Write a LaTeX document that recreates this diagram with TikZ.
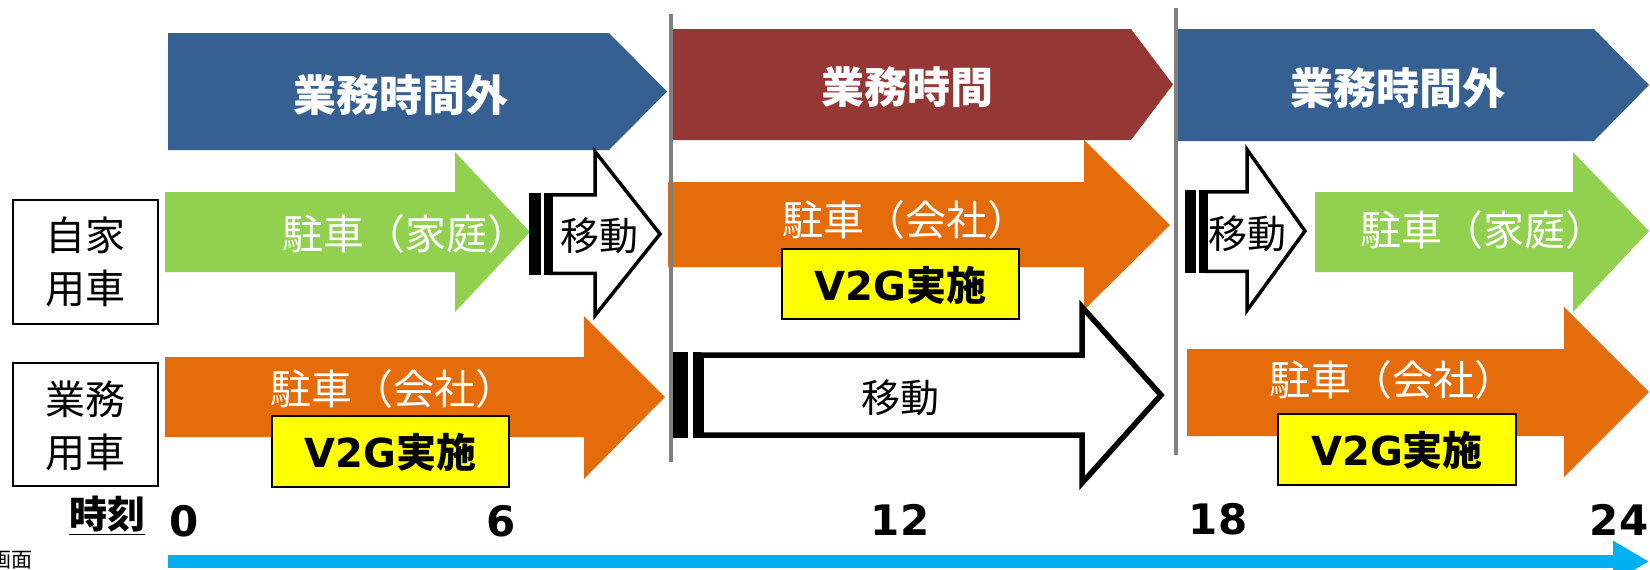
\documentclass[tikz,border=0pt]{standalone}
\usepackage{fontspec}
\setmainfont{DejaVu Sans}
\newfontfamily\jp{Noto Sans CJK JP}
\newfontfamily\dv{DejaVu Sans}
\usetikzlibrary{arrows.meta}
\definecolor{hblue}{HTML}{376092}
\definecolor{hred}{HTML}{953735}
\definecolor{pgreen}{HTML}{92D050}
\definecolor{porange}{HTML}{E46C0A}
\definecolor{axisblue}{HTML}{00B0F0}
\definecolor{vgray}{HTML}{808080}
\definecolor{vyellow}{HTML}{FFFF00}
\begin{document}
\begin{tikzpicture}[x=0.5pt,y=-0.5pt,
  every node/.style={inner sep=0pt, outer sep=0pt},
  headtxt/.style={text=white, font={\jp\bfseries\fontsize{21.5}{26}\selectfont}},
  parktxt/.style={text=white, font={\jp\fontsize{20.5}{25}\selectfont}},
  movetxt/.style={text=black, font={\jp\fontsize{19.5}{24}\selectfont}},
  v2gbox/.style={draw=black, line width=1pt, fill=vyellow},
  labelbox/.style={draw=black, line width=1pt, fill=white},
  labeltxt/.style={align=center, font={\jp\fontsize{20}{26.5}\selectfont}},
  timetxt/.style={font={\dv\bfseries\fontsize{21}{25}\selectfont}},
  movearrow/.style={draw=black, fill=white, line join=miter},
  divider/.style={draw=vgray, line width=2pt},
  axisline/.style={draw=axisblue, line width=6.5pt, -{Triangle[length=18pt,width=19.5pt]}}
]
\useasboundingbox (0,0) rectangle (1650,569);

% ---- headers ----
\fill[hblue] (168,33) -- (609,33) -- (667,91.5) -- (609,150) -- (168,150) -- cycle;
\fill[hred] (673,29) -- (1131,29) -- (1173,84.5) -- (1131,140) -- (673,140) -- cycle;
\fill[hblue] (1178,29) -- (1594,29) -- (1649,85) -- (1594,141) -- (1178,141) -- cycle;
\node[headtxt] (h1) at (401,95) {業務時間外};
\node[headtxt] (h2) at (907,87) {業務時間};
\node[headtxt] (h3) at (1398,88) {業務時間外};

% ---- row 1 (自家用車) ----
\fill[pgreen] (165,192) -- (455,192) -- (455,152) -- (530,232) -- (455,312) -- (455,272) -- (165,272) -- cycle;
\node[parktxt] (p1) at (405,234) {駐車（家庭）};

\fill[black] (529,193) rectangle (541,275);
\fill[black] (544,193) rectangle (551,275);
\draw[movearrow, line width=1.75pt] (551,194.75) -- (595,194.75) -- (595,151.5) -- (660,234) -- (595,315.5) -- (595,273.25) -- (551,273.25) -- cycle;
\node[movetxt] (m1) at (599,236) {移動};

\fill[porange] (668,182) -- (1084,182) -- (1084,140) -- (1170,225) -- (1084,310) -- (1084,267) -- (668,267) -- cycle;
\node[parktxt] (p2) at (905,220) {駐車（会社）};
\draw[v2gbox] (782,249) rectangle (1019,319);
\node (v1) at (900.5,285) {{\dv\bfseries\fontsize{20}{24}\selectfont V2G}{\jp\bfseries\fontsize{20}{24}\selectfont 実施}};

\fill[black] (1185,190) rectangle (1196,273);
\fill[black] (1199,190) rectangle (1206,273);
\draw[movearrow, line width=1.75pt] (1206,191.75) -- (1247,191.75) -- (1247,149.5) -- (1305,231) -- (1247,310.5) -- (1247,271.25) -- (1206,271.25) -- cycle;
\node[movetxt] (m2) at (1247,234) {移動};

\fill[pgreen] (1315,192) -- (1573,192) -- (1573,152) -- (1649,231) -- (1573,312) -- (1573,272) -- (1315,272) -- cycle;
\node[parktxt] (p3) at (1483,230) {駐車（家庭）};

% ---- row 2 (業務用車) ----
\fill[porange] (165,357) -- (584,357) -- (584,316) -- (665,397) -- (584,479) -- (584,437) -- (165,437) -- cycle;
\node[parktxt] (p4) at (393,389) {駐車（会社）};
\draw[v2gbox] (272,416) rectangle (509,487);
\node (v2) at (390.5,452) {{\dv\bfseries\fontsize{20}{24}\selectfont V2G}{\jp\bfseries\fontsize{20}{24}\selectfont 実施}};

\fill[black] (673,352) rectangle (688,438);
\fill[black] (693,352) rectangle (701,438);
\draw[movearrow, line width=2.75pt] (701,355) -- (1082,355) -- (1082,307) -- (1161,395) -- (1082,483) -- (1082,435) -- (701,435) -- cycle;
\node[movetxt] (m3) at (900,398) {移動};

\fill[porange] (1187,349) -- (1564,349) -- (1564,307) -- (1649,392) -- (1564,477) -- (1564,436) -- (1187,436) -- cycle;
\node[parktxt] (p5) at (1392,380) {駐車（会社）};
\draw[v2gbox] (1278,414) rectangle (1516,485);
\node (v3) at (1397,450) {{\dv\bfseries\fontsize{20}{24}\selectfont V2G}{\jp\bfseries\fontsize{20}{24}\selectfont 実施}};

% ---- dividers ----
\coordinate (d1t) at (671,14);
\coordinate (d1b) at (671,462);
\coordinate (d2t) at (1176,8);
\coordinate (d2b) at (1176,455);
\draw[divider] (d1t) -- (d1b);
\draw[divider] (d2t) -- (d2b);

% ---- row labels ----
\draw[labelbox] (13,200) rectangle (158,324);
\node[labeltxt] (l1) at (86,262) {自家\\用車};
\draw[labelbox] (13,363) rectangle (158,486);
\node[labeltxt] (l2) at (86,426) {業務\\用車};

% ---- time axis ----
\node[font={\jp\bfseries\fontsize{19}{23}\selectfont}] (tk) at (107,516) {\underline{時刻}};
\node[timetxt] (t0) at (184,521) {0};
\node[timetxt] (t6) at (501,521) {6};
\node[timetxt] (t12) at (900,520) {12};
\node[timetxt] (t18) at (1218,519) {18};
\node[timetxt] (t24) at (1619,520) {24};
\coordinate (ax0) at (168,561.5);
\coordinate (ax1) at (1649,561.5);
\draw[axisline] (ax0) -- (ax1);

\node[anchor=east, font={\jp\fontsize{10.5}{12}\selectfont}] (src) at (32,560) {画面};
\end{tikzpicture}
\end{document}
